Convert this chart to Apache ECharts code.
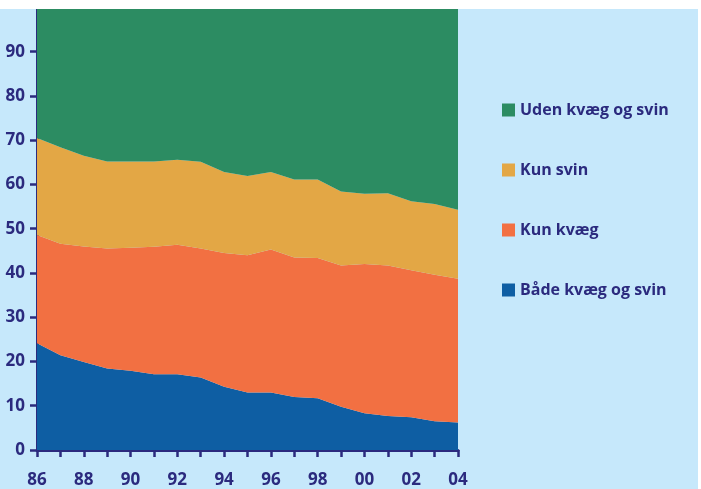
<!DOCTYPE html>
<html>
<head>
<meta charset="utf-8">
<script src="https://cdn.jsdelivr.net/npm/echarts@6/dist/echarts.min.js"></script>
<style>
html,body{margin:0;padding:0;background:#ffffff;}
#c{width:701px;height:489px;}
</style>
</head>
<body>
<div id="c"></div>
<script>
const years = ['86','87','88','89','90','91','92','93','94','95','96','97','98','99','00','01','02','03','04'];
const yTicks = [0,10,20,30,40,50,60,70,80,90];
const baadeKvaegOgSvin = [24.1,21.4,19.9,18.4,17.9,17.1,17.1,16.4,14.3,13.0,13.0,12.0,11.7,9.8,8.3,7.7,7.4,6.5,6.2];
const kunKvaeg = [24.5,25.2,26.1,27.1,27.8,28.8,29.3,29.1,30.2,31.0,32.3,31.5,31.7,31.9,33.7,34.0,33.2,33.1,32.5];
const kunSvin = [21.9,21.8,20.5,19.7,19.5,19.3,19.2,19.6,18.3,17.9,17.5,17.6,17.7,16.7,15.9,16.3,15.6,16.0,15.6];
const udenKvaegOgSvin = [29.5,31.6,33.5,34.8,34.8,34.8,34.4,34.9,37.2,38.1,37.2,38.9,38.9,41.6,42.1,42.0,43.8,44.4,45.7];
const seriesNames = ['Både kvæg og svin','Kun kvæg','Kun svin','Uden kvæg og svin'];

const navy = '#2b2a7e';
const colors = ['#0e5ea3','#f27042','#e3a745','#2c8c62'];
const font = '"Open Sans", sans-serif';

const chart = echarts.init(document.getElementById('c'), null, {renderer:'canvas'});
const mk = (name, data, i) => ({
  name, type:'line', stack:'total', data,
  symbol:'none', smooth:false,
  lineStyle:{width:0},
  areaStyle:{color:colors[i], opacity:1},
  itemStyle:{color:colors[i]},
  emphasis:{disabled:true}
});
chart.setOption({
  animation:false,
  backgroundColor:'#c6e8fb',
  grid:{left:37, right:243, top:7.4, bottom:39, containLabel:false},
  legend:{
    orient:'vertical', left:502, top:100, padding:0,
    data:[seriesNames[3],seriesNames[2],seriesNames[1],seriesNames[0]],
    icon:'rect', itemWidth:13, itemHeight:13, itemGap:40,
    textStyle:{color:navy, fontFamily:font, fontWeight:'bold', fontSize:16, lineHeight:20, padding:[0,0,0,0]},
    selectedMode:false
  },
  xAxis:{
    type:'category', data:years, boundaryGap:false,
    axisLine:{lineStyle:{color:navy, width:3}},
    axisTick:{show:true, inside:false, length:7, lineStyle:{color:navy, width:2.5}, interval:0},
    axisLabel:{color:navy, fontFamily:font, fontWeight:'bold', fontSize:17, margin:22,
      interval:0, formatter:(v,i)=> i%2===0 ? v : ''},
    splitLine:{show:false}
  },
  yAxis:{
    type:'value', min:0, max:100, interval:10,
    axisLine:{show:true, lineStyle:{color:navy, width:3}},
    axisTick:{show:true, length:7, lineStyle:{color:navy, width:2.5}},
    axisLabel:{color:navy, fontFamily:font, fontWeight:'bold', fontSize:17, margin:12,
      showMaxLabel:false, formatter:v => yTicks.includes(v) ? String(v) : ''},
    splitLine:{show:false}
  },
  series:[
    mk(seriesNames[0], baadeKvaegOgSvin, 0),
    mk(seriesNames[1], kunKvaeg, 1),
    mk(seriesNames[2], kunSvin, 2),
    mk(seriesNames[3], udenKvaegOgSvin, 3)
  ],
  graphic:[
    {type:'rect', z:100, shape:{x:0,y:0,width:701,height:9}, style:{fill:'#ffffff'}},
    {type:'rect', z:100, shape:{x:698,y:0,width:3,height:489}, style:{fill:'#ffffff'}}
  ]
});
</script>
</body>
</html>
